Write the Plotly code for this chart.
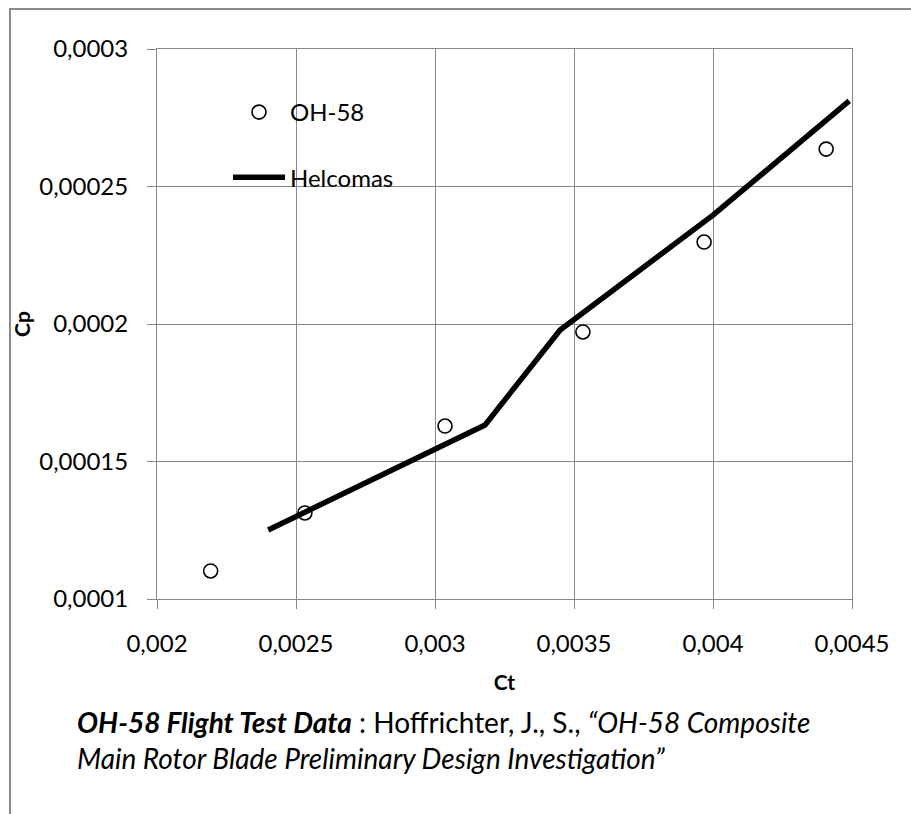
import plotly.graph_objects as go

# ---- data ----
oh58_ct = [0.002193, 0.002532, 0.003036, 0.003532, 0.003968, 0.004407]
oh58_cp = [0.0001102, 0.0001313, 0.0001629, 0.0001971, 0.0002298, 0.0002636]

helcomas_ct = [0.0024, 0.00318, 0.00345, 0.004, 0.00449]
helcomas_cp = [0.0001251, 0.0001633, 0.0001978, 0.0002396, 0.0002811]

x_tickvals = [0.002, 0.0025, 0.003, 0.0035, 0.004, 0.0045]
x_ticktext = ["0,002", "0,0025", "0,003", "0,0035", "0,004", "0,0045"]
y_tickvals = [0.0001, 0.00015, 0.0002, 0.00025, 0.0003]
y_ticktext = ["0,0001", "0,00015", "0,0002", "0,00025", "0,0003"]

W, H = 911, 814
L, R, T, B = 157, 59, 49, 215
pw, ph = W - L - R, H - T - B

def px_x(p):
    return (p - L) / pw

def px_y(p):
    return (H - B - p) / ph

FONT = "Lato, 'Open Sans', sans-serif"
GRID = "#888888"

fig = go.Figure()
fig.add_trace(go.Scatter(
    x=oh58_ct, y=oh58_cp, mode="markers", name="OH-58",
    legendgroup="a",
    marker=dict(symbol="circle", size=14, color="white",
                line=dict(color="black", width=1.6)),
))
fig.add_trace(go.Scatter(
    x=helcomas_ct, y=helcomas_cp, mode="lines", name="Helcomas",
    legendgroup="b",
    line=dict(color="black", width=5.5),
))

axis_common = dict(
    showgrid=True, gridcolor=GRID, gridwidth=1,
    showline=True, linecolor=GRID, linewidth=1, mirror=True,
    ticks="outside", ticklen=9, tickcolor=GRID, tickwidth=1,
    tickfont=dict(family=FONT, size=24, color="black"),
    zeroline=False, automargin=False,
)

fig.update_xaxes(
    range=[0.002, 0.0045], tickmode="array",
    tickvals=x_tickvals, ticktext=x_ticktext,
    title=dict(text="<b>Ct</b>", font=dict(family=FONT, size=21, color="black"), standoff=19),
    ticklabelstandoff=14,
    **axis_common,
)
fig.update_yaxes(
    range=[0.0001, 0.0003], tickmode="array",
    tickvals=y_tickvals, ticktext=y_ticktext,
    title=dict(text="<b>Cp</b>", font=dict(family=FONT, size=21, color="black"), standoff=2),
    ticklabelstandoff=14,
    **axis_common,
)

shapes = [
    # outer chart frame
    dict(type="rect", xref="paper", yref="paper",
         x0=px_x(10), x1=px_x(W + 20), y0=px_y(H + 20), y1=px_y(9),
         line=dict(color="#8a8a8a", width=2), fillcolor="rgba(0,0,0,0)", layer="below"),
    # legend background box
    dict(type="rect", xref="paper", yref="paper",
         x0=px_x(197), x1=px_x(436), y0=px_y(213), y1=px_y(76),
         line=dict(width=0), fillcolor="white", layer="between"),
]

annotations = [
    dict(xref="paper", yref="paper", x=px_x(75), y=px_y(722),
         xanchor="left", yanchor="middle", showarrow=False, align="left",
         text="<b><i>OH-58 Flight Test Data</i></b> : Hoffrichter, J., S., <i>“OH-58 Composite</i>",
         font=dict(family=FONT, size=28, color="black")),
    dict(xref="paper", yref="paper", x=px_x(75), y=px_y(758),
         xanchor="left", yanchor="middle", showarrow=False, align="left",
         text="<i>Main Rotor Blade Preliminary Design Investigation”</i>",
         font=dict(family=FONT, size=28, color="black")),
]

fig.update_layout(
    width=W, height=H,
    margin=dict(l=L, r=R, t=T, b=B, pad=0),
    paper_bgcolor="white", plot_bgcolor="white",
    font=dict(family=FONT, size=24, color="black"),
    showlegend=True,
    legend=dict(
        x=px_x(228), y=px_y(90), xanchor="left", yanchor="top",
        bgcolor="rgba(0,0,0,0)", borderwidth=0,
        font=dict(family=FONT, size=24, color="black"),
        tracegroupgap=31, traceorder="grouped", itemwidth=52,
    ),
    shapes=shapes, annotations=annotations,
)

fig.write_html("out.html")
